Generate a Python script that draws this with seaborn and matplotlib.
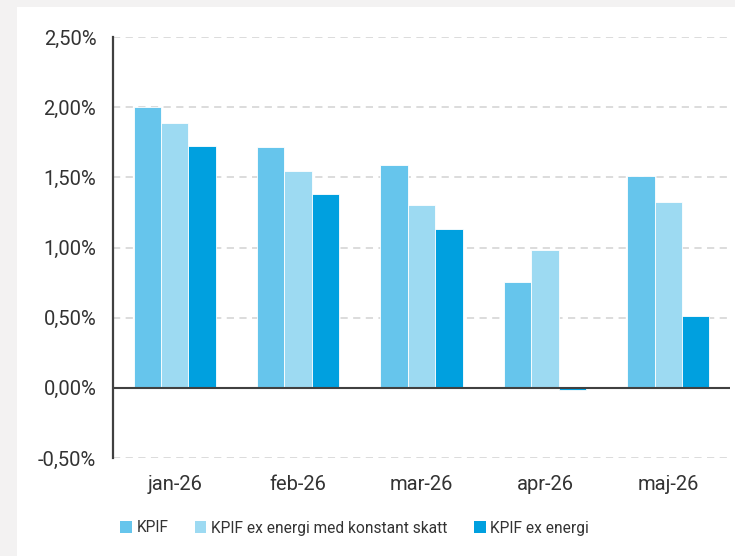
import matplotlib
matplotlib.use('Agg')
import matplotlib.pyplot as plt
import seaborn as sns
import pandas as pd
from matplotlib.patches import Rectangle, Patch

# data
months = ["jan-26", "feb-26", "mar-26", "apr-26", "maj-26"]
kpif = [2.00, 1.715, 1.585, 0.755, 1.51]
kpif_ex_skatt = [1.89, 1.545, 1.30, 0.98, 1.325]
kpif_ex_energi = [1.72, 1.38, 1.13, -0.015, 0.515]
series = ["KPIF", "KPIF ex energi med konstant skatt", "KPIF ex energi"]
colors = ["#66C5EC", "#9DDAF2", "#00A0DF"]
yticks = [-0.5, 0.0, 0.5, 1.0, 1.5, 2.0, 2.5]
ytick_labels = ["-0,50%", "0,00%", "0,50%", "1,00%", "1,50%", "2,00%", "2,50%"]

df = pd.DataFrame({
    "month": months * 3,
    "value": kpif + kpif_ex_skatt + kpif_ex_energi,
    "series": [series[0]] * 5 + [series[1]] * 5 + [series[2]] * 5,
})

sns.set_style("white")
plt.rcParams['font.family'] = ['Roboto', 'DejaVu Sans']

fig = plt.figure(figsize=(7.35, 5.56), dpi=100)
fig.patch.set_facecolor("#F3F2F2")
# white card behind the chart
fig.patches.append(Rectangle((17 / 735, 0), 1, 1 - 7 / 556, transform=fig.transFigure,
                             facecolor="white", edgecolor="none", zorder=-10))

ax = fig.add_axes([113 / 735, 1 - 458 / 556, (730 - 113) / 735, (458 - 37) / 556])
ax.set_facecolor("none")

sns.barplot(data=df, x="month", y="value", hue="series", hue_order=series,
            palette=colors, width=0.665, gap=0, edgecolor="white", linewidth=0.6,
            saturation=1, ax=ax, legend=False, zorder=3)

ax.set_ylim(-0.5, 2.5)
ax.set_xlim(-0.5, len(months) - 0.5)
ax.set_yticks(yticks)
ax.set_yticklabels(ytick_labels)
ax.yaxis.grid(True, color="#D9D9D9", linestyle=(0, (4, 3)), linewidth=1.3, zorder=0)
ax.set_axisbelow(True)
ax.axhline(0, color="#404040", linewidth=1.5, zorder=4)

for s in ["top", "right", "bottom"]:
    ax.spines[s].set_visible(False)
ax.spines["left"].set_color("#404040")
ax.spines["left"].set_linewidth(1.6)

ax.tick_params(axis="y", length=0, pad=12, labelsize=14.5, labelcolor="#333333")
ax.tick_params(axis="x", length=0, pad=12, labelsize=14.5, labelcolor="#333333")
ax.set_xlabel("")
ax.set_ylabel("")

handles = [Patch(facecolor=c, edgecolor="none") for c in colors]
fig.legend(handles, series, loc="center left", bbox_to_anchor=(106 / 735, 1 - 528 / 556),
           ncol=3, frameon=False, fontsize=11.2, handlelength=0.75, handleheight=0.75,
           handletextpad=0.3, columnspacing=1.7, labelcolor="#333333")

fig.savefig("out.png", dpi=100, facecolor=fig.get_facecolor())
